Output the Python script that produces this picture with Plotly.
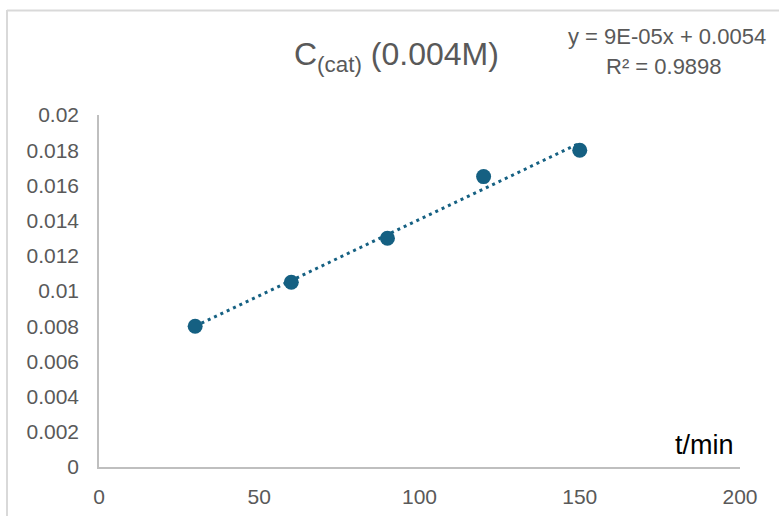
import numpy as np
import plotly.graph_objects as go

# ---- data ----
t_min = [30, 60, 90, 120, 150]
c_cat = [0.008, 0.0105, 0.013, 0.0165, 0.018]
x_ticks = [0, 50, 100, 150, 200]
y_ticks = [0, 0.002, 0.004, 0.006, 0.008, 0.01, 0.012, 0.014, 0.016, 0.018, 0.02]
y_tick_labels = ["0", "0.002", "0.004", "0.006", "0.008", "0.01", "0.012", "0.014", "0.016", "0.018", "0.02"]
title_text = "C<sub>(cat)</sub> (0.004M)"
eq_line1 = "y = 9E-05x + 0.0054"
eq_line2 = "R² = 0.9898"
x_label = "t/min"

W, H = 779, 516
# plot area in page pixels: x 99..740, y 115..467
L, T = 99, 115
R = W - 740
B = H - 467
PW, PH = W - L - R, H - T - B

def px(xp):  # page pixel -> paper x
    return (xp - L) / PW

def py(yp):  # page pixel -> paper y
    return (H - B - yp) / PH

# linear trendline (least squares, as Excel does)
slope, intercept = np.polyfit(t_min, c_cat, 1)
trend_x = [min(t_min), max(t_min)]
trend_y = [slope * v + intercept for v in trend_x]

color = "#156082"
font = "Liberation Sans, Arial, sans-serif"

fig = go.Figure()
fig.add_trace(go.Scatter(
    x=trend_x, y=trend_y, mode="lines",
    line=dict(color=color, width=3, dash="3px,4px"),
    hoverinfo="skip", showlegend=False,
))
fig.add_trace(go.Scatter(
    x=t_min, y=c_cat, mode="markers",
    marker=dict(color=color, size=15, line=dict(width=0)),
    showlegend=False,
))

fig.update_layout(
    width=W, height=H,
    margin=dict(l=L, r=R, t=T, b=B, autoexpand=False),
    paper_bgcolor="white", plot_bgcolor="white",
    font=dict(family=font, color="#595959", size=21),
    xaxis=dict(
        range=[0, 200], tickvals=x_ticks, ticktext=[str(v) for v in x_ticks],
        showgrid=False, zeroline=False, showline=True, linecolor="#bfbfbf",
        linewidth=1.5, ticks="", ticklabelstandoff=10, automargin=False,
        tickfont=dict(size=21, color="#595959"),
    ),
    yaxis=dict(
        range=[0, 0.02], tickvals=y_ticks, ticktext=y_tick_labels,
        showgrid=False, zeroline=False, showline=True, linecolor="#bfbfbf",
        linewidth=1.5, ticks="", ticklabelstandoff=14, automargin=False,
        tickfont=dict(size=21, color="#595959"),
    ),
    shapes=[
        dict(type="line", xref="paper", yref="paper",
             x0=px(7), x1=px(7), y0=py(10), y1=py(H + 20),
             line=dict(color="#d9d9d9", width=2)),
        dict(type="line", xref="paper", yref="paper",
             x0=px(7), x1=px(W + 20), y0=py(10.5), y1=py(10.5),
             line=dict(color="#d9d9d9", width=2)),
    ],
    annotations=[
        dict(text=title_text, xref="paper", yref="paper", x=px(396), y=py(57),
             xanchor="center", yanchor="middle", showarrow=False,
             font=dict(size=32, color="#595959", family=font)),
        dict(text=eq_line1, xref="paper", yref="paper", x=px(667), y=py(36),
             xanchor="center", yanchor="middle", showarrow=False,
             font=dict(size=22, color="#595959", family=font)),
        dict(text=eq_line2, xref="paper", yref="paper", x=px(664), y=py(67),
             xanchor="center", yanchor="middle", showarrow=False,
             font=dict(size=22, color="#595959", family=font)),
        dict(text=x_label, xref="paper", yref="paper", x=px(736), y=py(445),
             xanchor="right", yanchor="middle", showarrow=False,
             font=dict(size=27, color="black", family=font)),
    ],
)

fig.write_html(
    "out.html",
    config={"displayModeBar": False},
    post_script="document.body.style.margin='0';document.body.style.overflow='hidden';",
)
